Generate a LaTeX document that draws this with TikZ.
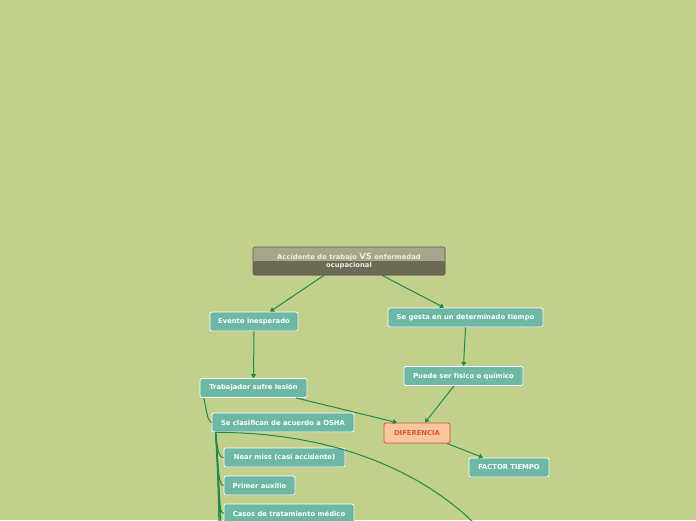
\documentclass[tikz,border=0pt]{standalone}
\usepackage{fontspec}
\setmainfont{DejaVu Sans}
\usepackage{xcolor}
\usepackage{tikz}
\usetikzlibrary{arrows.meta,positioning,shadows}
\definecolor{bgolive}{HTML}{C1D18C}
\definecolor{nodeteal}{HTML}{6CB8A5}
\definecolor{linkgreen}{HTML}{1F8A4C}
\definecolor{titletop}{HTML}{A8A58D}
\definecolor{titlebot}{HTML}{6C6957}
\definecolor{titletext}{HTML}{EEEDE0}
\definecolor{diffill}{HTML}{F6C6A0}
\definecolor{difred}{HTML}{E8532B}

\begin{document}
\begin{tikzpicture}[
  x=1pt, y=-1pt,
  every node/.style={align=center, font=\fontsize{6.8}{8}\selectfont\bfseries},
  box/.style={draw=white, line width=0.8pt, rounded corners=2pt, fill=nodeteal,
              text=white, minimum height=19pt, inner xsep=2pt,
              drop shadow={shadow xshift=0.6pt, shadow yshift=-0.8pt, opacity=0.25}},
  arr/.style={-{Triangle[width=5pt,length=4pt]}, linkgreen, line width=1pt},
  link/.style={linkgreen, line width=1pt},
]
  \useasboundingbox (0,0) rectangle (696,520);
  \fill[bgolive] (0,0) rectangle (696,520);
  \clip (0,0) rectangle (696,520);

  % Central topic
  \node[draw=titlebot!80!black, line width=0.6pt, rounded corners=2pt, fill=titletop,
        text=titletext, minimum width=192pt, minimum height=28pt, inner sep=1pt,
        path picture={\fill[titlebot] (path picture bounding box.west)
                      rectangle (path picture bounding box.south east);},
        drop shadow={shadow xshift=0.6pt, shadow yshift=-0.8pt, opacity=0.25}]
        (title) at (349,261)
    {Accidente de trabajo {\fontsize{8.5}{8}\selectfont VS} enfermedad\\ocupacional};

  % Left branch
  \node[box, minimum width=88pt]  (evento) at (254,321.5) {Evento inesperado};
  \node[box, minimum width=107pt] (trab)   at (253.5,388) {Trabajador sufre lesión};
  \node[box, minimum width=142pt] (osha)   at (283,422.5) {Se clasifican de acuerdo a OSHA};
  \node[box, minimum width=121pt] (near)   at (284.5,457.5) {Near miss (casi accidente)};
  \node[box, minimum width=71pt]  (primer) at (259.5,485.5) {Primer auxilio};
  \node[box, minimum width=130pt] (casos)  at (289,513.5) {Casos de tratamiento médico};

  % Right branch
  \node[box, minimum width=155pt] (gesta)  at (465.5,317.5) {Se gesta en un determinado tiempo};
  \node[box, minimum width=119pt] (puede)  at (463.5,376) {Puede ser físico o químico};
  \node[box, draw=difred, fill=diffill, text=difred, minimum width=66pt, minimum height=20pt]
        (dif) at (417,433) {DIFERENCIA};
  \node[box, minimum width=80pt]  (factor) at (509,467.5) {FACTOR TIEMPO};

  % Continuations below the page edge
  \coordinate (offa) at (219,545);
  \coordinate (offb) at (221,575);
  \coordinate (offc) at (223,610);
  \coordinate (offcurve) at (490,540);

  % Arrows
  \draw[arr] ([xshift=-25pt]title.south) -- ([xshift=16pt]evento.north);
  \draw[arr] ([xshift=33pt]title.south) -- ([xshift=-21.5pt]gesta.north);
  \draw[arr] (evento.south) -- (trab.north);
  \draw[arr] (gesta.south) -- (puede.north);
  \draw[arr] ([xshift=42.5pt]trab.south) -- ([xshift=-20pt]dif.north);
  \draw[arr] ([xshift=-9.5pt]puede.south) -- ([xshift=8pt]dif.north);
  \draw[arr] ([xshift=30pt]dif.south) -- ([xshift=-26pt]factor.north);

  % Sub-topic links
  \draw[link] ([xshift=4pt]trab.south west) .. controls +(3,10) and +(-5,-2) .. (osha.west);
  \draw[link] ([xshift=4pt]osha.south west) .. controls +(2,14) and +(-6,0) .. (near.west);
  \draw[link] ([xshift=4pt]osha.south west) .. controls +(3,30) and +(-6,0) .. (primer.west);
  \draw[link] ([xshift=4pt]osha.south west) .. controls +(4,50) and +(-6,0) .. (casos.west);
  \draw[link] ([xshift=4pt]osha.south west) .. controls +(2,40) and +(0,-40) .. (offa);
  \draw[link] ([xshift=4pt]osha.south west) .. controls +(3,50) and +(0,-50) .. (offb);
  \draw[link] ([xshift=4pt]osha.south west) .. controls +(4,60) and +(0,-60) .. (offc);
  \draw[link] ([xshift=4pt]osha.south west) .. controls (330,432) and (430,470) .. (offcurve);
\end{tikzpicture}
\end{document}
